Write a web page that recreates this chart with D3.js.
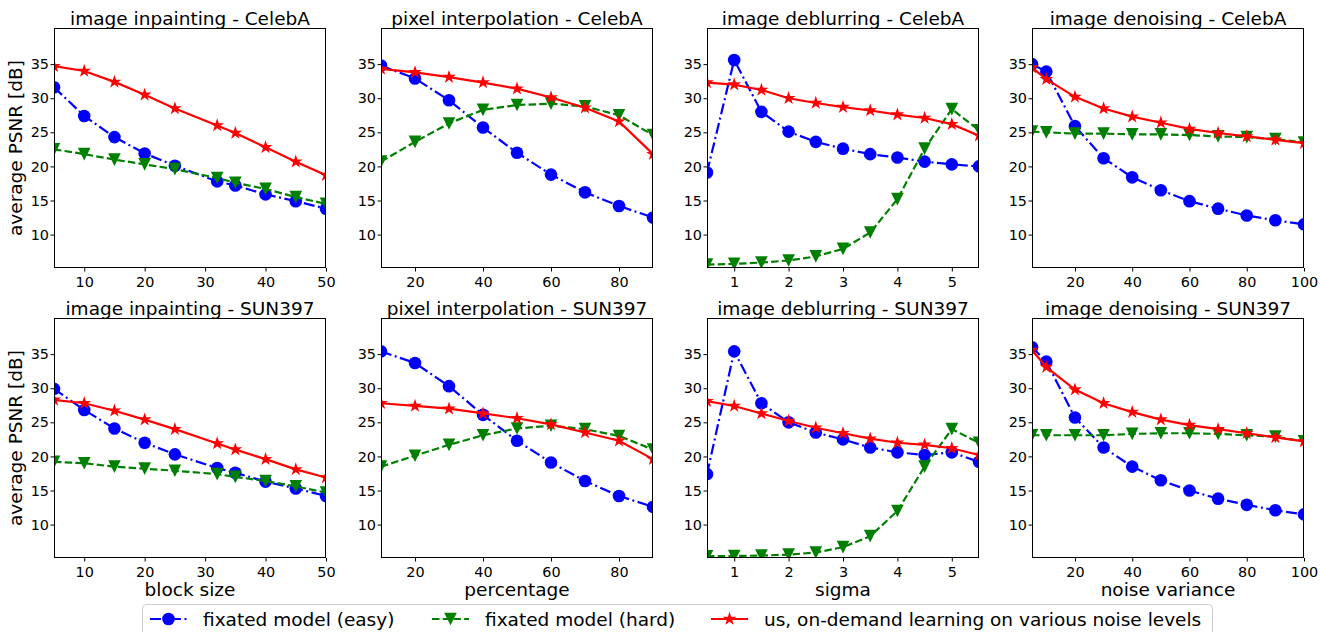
<!DOCTYPE html>
<html lang="en">

<head>
    <meta charset="UTF-8">
    <title>PSNR per task</title>
    <script src="https://d3js.org/d3.v7.min.js"></script>
    <style>
        body {
            margin: 0;
            background: white;
        }

        svg text {
            font-family: "DejaVu Sans", sans-serif;
            fill: black;
        }

        .tick text {
            font-size: 14.4px;
        }

        .panel-title,
        .axis-label,
        .legend-text {
            font-size: 18.5px;
        }
    </style>
</head>

<body>
    <script>
        // x values of each task
        const inpaintX = [5, 10, 15, 20, 25, 32, 35, 40, 45, 50];
        const interpX = [10, 20, 30, 40, 50, 60, 70, 80, 90];
        const deblurX = [0.5, 1, 1.5, 2, 2.5, 3, 3.5, 4, 4.5, 5, 5.5];
        const denoiseX = [5, 10, 20, 30, 40, 50, 60, 70, 80, 90, 100];

        // CelebA
        const inpaintCelebaEasy = [31.6, 27.4, 24.3, 21.9, 20.1, 17.8, 17.2, 15.9, 14.9, 13.8];
        const inpaintCelebaHard = [22.5, 21.8, 21.0, 20.3, 19.6, 18.3, 17.6, 16.7, 15.5, 14.5];
        const inpaintCelebaOurs = [34.7, 34.0, 32.4, 30.5, 28.5, 26.0, 24.9, 22.8, 20.7, 18.7];

        const interpCelebaEasy = [34.8, 32.9, 29.7, 25.7, 22.0, 18.8, 16.2, 14.2, 12.5];
        const interpCelebaHard = [20.7, 23.6, 26.3, 28.3, 29.0, 29.2, 28.8, 27.5, 24.6];
        const interpCelebaOurs = [34.3, 33.8, 33.1, 32.3, 31.4, 30.1, 28.6, 26.6, 21.8];

        const deblurCelebaEasy = [19.1, 35.6, 28.0, 25.1, 23.6, 22.6, 21.8, 21.3, 20.7, 20.3, 20.0];
        const deblurCelebaHard = [5.6, 5.7, 5.9, 6.2, 6.8, 7.9, 10.3, 15.2, 22.6, 28.4, 25.3];
        const deblurCelebaOurs = [32.3, 32.0, 31.2, 30.0, 29.3, 28.7, 28.2, 27.6, 27.1, 26.2, 24.5];

        const denoiseCelebaEasy = [35.0, 33.9, 25.9, 21.2, 18.4, 16.5, 14.9, 13.8, 12.8, 12.1, 11.5];
        const denoiseCelebaHard = [25.1, 25.0, 24.8, 24.8, 24.7, 24.7, 24.6, 24.4, 24.3, 24.0, 23.5];
        const denoiseCelebaOurs = [34.5, 32.8, 30.2, 28.5, 27.3, 26.4, 25.5, 24.9, 24.4, 23.9, 23.4];

        // SUN397
        const inpaintSunEasy = [29.9, 26.8, 24.1, 22.0, 20.3, 18.3, 17.6, 16.3, 15.3, 14.2];
        const inpaintSunHard = [19.2, 19.0, 18.5, 18.2, 17.9, 17.4, 17.0, 16.4, 15.6, 14.7];
        const inpaintSunOurs = [28.3, 27.8, 26.7, 25.4, 24.0, 21.9, 21.0, 19.6, 18.1, 16.9];

        const interpSunEasy = [35.4, 33.7, 30.3, 26.1, 22.3, 19.1, 16.4, 14.2, 12.6];
        const interpSunHard = [18.5, 20.1, 21.7, 23.1, 24.1, 24.5, 24.0, 23.0, 21.0];
        const interpSunOurs = [27.8, 27.4, 27.0, 26.3, 25.6, 24.7, 23.5, 22.3, 19.6];

        const deblurSunEasy = [17.4, 35.4, 27.8, 25.0, 23.5, 22.5, 21.3, 20.6, 20.2, 20.6, 19.2];
        const deblurSunHard = [5.35, 5.4, 5.45, 5.6, 5.9, 6.7, 8.3, 12.0, 18.5, 24.0, 22.0];
        const deblurSunOurs = [28.1, 27.4, 26.3, 25.2, 24.2, 23.4, 22.6, 22.0, 21.7, 21.2, 20.2];

        const denoiseSunEasy = [36.0, 33.9, 25.7, 21.3, 18.5, 16.5, 15.0, 13.8, 12.9, 12.1, 11.5];
        const denoiseSunHard = [23.1, 23.1, 23.1, 23.1, 23.3, 23.4, 23.4, 23.3, 23.1, 22.9, 22.2];
        const denoiseSunOurs = [35.6, 33.1, 29.8, 27.8, 26.5, 25.4, 24.6, 24.0, 23.4, 22.8, 22.2];

        // axis ticks
        const yTicks = [10, 15, 20, 25, 30, 35];
        const inpaintTicks = [10, 20, 30, 40, 50];
        const interpTicks = [20, 40, 60, 80];
        const deblurTicks = [1, 2, 3, 4, 5];
        const denoiseTicks = [20, 40, 60, 80, 100];

        const xLabels = ["block size", "percentage", "sigma", "noise variance"];
        const legendNames = ["fixated model (easy)", "fixated model (hard)", "us, on-demand learning on various noise levels"];

        const panels = [
            { title: "image inpainting - CelebA", x: inpaintX, ys: [inpaintCelebaEasy, inpaintCelebaHard, inpaintCelebaOurs], dom: [5, 50], ticks: inpaintTicks },
            { title: "pixel interpolation - CelebA", x: interpX, ys: [interpCelebaEasy, interpCelebaHard, interpCelebaOurs], dom: [10, 90], ticks: interpTicks },
            { title: "image deblurring - CelebA", x: deblurX, ys: [deblurCelebaEasy, deblurCelebaHard, deblurCelebaOurs], dom: [0.5, 5.5], ticks: deblurTicks },
            { title: "image denoising - CelebA", x: denoiseX, ys: [denoiseCelebaEasy, denoiseCelebaHard, denoiseCelebaOurs], dom: [5, 100], ticks: denoiseTicks },
            { title: "image inpainting - SUN397", x: inpaintX, ys: [inpaintSunEasy, inpaintSunHard, inpaintSunOurs], dom: [5, 50], ticks: inpaintTicks },
            { title: "pixel interpolation - SUN397", x: interpX, ys: [interpSunEasy, interpSunHard, interpSunOurs], dom: [10, 90], ticks: interpTicks },
            { title: "image deblurring - SUN397", x: deblurX, ys: [deblurSunEasy, deblurSunHard, deblurSunOurs], dom: [0.5, 5.5], ticks: deblurTicks },
            { title: "image denoising - SUN397", x: denoiseX, ys: [denoiseSunEasy, denoiseSunHard, denoiseSunOurs], dom: [5, 100], ticks: denoiseTicks }
        ];

        // triangle pointing down, like matplotlib "v"
        const symbolTriDown = {
            draw(ctx, size) {
                const h = Math.sqrt(size) / 2;
                ctx.moveTo(-h, -h);
                ctx.lineTo(h, -h);
                ctx.lineTo(0, h);
                ctx.closePath();
            }
        };

        const series = [
            { color: "#0000ff", dash: "11,3.5,2,3.5", symbol: d3.symbolCircle, size: 125 },
            { color: "#008000", dash: "7.5,3.2", symbol: symbolTriDown, size: 160 },
            { color: "#ff0000", dash: null, symbol: d3.symbolStar, size: 58 }
        ];

        const width = 1320, height = 632;
        const panelLeft = [54, 381, 707, 1032];
        const panelTop = [28, 318];
        const pw = 272, ph = 240;

        const svg = d3.select("body").append("svg")
            .attr("width", width)
            .attr("height", height);

        const defs = svg.append("defs");

        panels.forEach(function (p, i) {
            const col = i % 4, row = Math.floor(i / 4);
            const g = svg.append("g")
                .attr("transform", "translate(" + panelLeft[col] + "," + panelTop[row] + ")");

            const x = d3.scaleLinear().domain(p.dom).range([0, pw]);
            const y = d3.scaleLinear().domain([5.1, 40.3]).range([ph, 0]);

            defs.append("clipPath").attr("id", "clip" + i)
                .append("rect").attr("width", pw).attr("height", ph);

            // assi
            g.append("g")
                .attr("transform", "translate(0," + ph + ")")
                .call(d3.axisBottom(x).tickValues(p.ticks).tickSize(3.5).tickPadding(5).tickFormat(d3.format("")))
                .call(a => a.select(".domain").remove());

            g.append("g")
                .call(d3.axisLeft(y).tickValues(yTicks).tickSize(3.5).tickPadding(1.5))
                .call(a => a.select(".domain").remove());

            g.selectAll(".tick line").attr("stroke", "black");
            g.selectAll(".tick text").attr("font-family", null).attr("font-size", null);

            // linee e marker
            const plot = g.append("g").attr("clip-path", "url(#clip" + i + ")");
            series.forEach(function (s, k) {
                const pts = p.x.map((v, j) => [v, p.ys[k][j]]);
                plot.append("path")
                    .datum(pts)
                    .attr("fill", "none")
                    .attr("stroke", s.color)
                    .attr("stroke-width", 2.2)
                    .attr("stroke-dasharray", s.dash)
                    .attr("d", d3.line().x(d => x(d[0])).y(d => y(d[1])));

                plot.selectAll(".m" + k)
                    .data(pts)
                    .enter().append("path")
                    .attr("class", "m" + k)
                    .attr("transform", d => "translate(" + x(d[0]) + "," + y(d[1]) + ")")
                    .attr("d", d3.symbol().type(s.symbol).size(s.size))
                    .attr("fill", s.color);
            });

            // cornice
            g.append("rect")
                .attr("x", 0.5).attr("y", 0.5)
                .attr("width", pw - 1).attr("height", ph - 1)
                .attr("fill", "none")
                .attr("stroke", "black")
                .attr("stroke-width", 1);

            g.append("text")
                .attr("class", "panel-title")
                .attr("x", pw / 2)
                .attr("y", -3)
                .attr("text-anchor", "middle")
                .text(p.title);

            if (col === 0) {
                g.append("text")
                    .attr("class", "axis-label")
                    .attr("transform", "translate(-32," + ph / 2 + ") rotate(-90)")
                    .attr("text-anchor", "middle")
                    .text("average PSNR [dB]");
            }
            if (row === 1) {
                g.append("text")
                    .attr("class", "axis-label")
                    .attr("x", pw / 2)
                    .attr("y", 278)
                    .attr("text-anchor", "middle")
                    .text(xLabels[col]);
            }
        });

        // legenda
        const legend = svg.append("g");
        legend.append("rect")
            .attr("x", 142.5).attr("y", 604.5)
            .attr("width", 1070).attr("height", 44)
            .attr("rx", 4)
            .attr("fill", "white")
            .attr("stroke", "#cccccc");

        const legendX = [150, 432, 711];
        series.forEach(function (s, k) {
            const lg = legend.append("g").attr("transform", "translate(" + legendX[k] + ",619)");
            lg.append("line")
                .attr("x1", 0).attr("x2", 37)
                .attr("stroke", s.color)
                .attr("stroke-width", 2.2)
                .attr("stroke-dasharray", s.dash);
            lg.append("path")
                .attr("transform", "translate(18.5,0)")
                .attr("d", d3.symbol().type(s.symbol).size(s.size))
                .attr("fill", s.color);
            lg.append("text")
                .attr("class", "legend-text")
                .attr("x", 53)
                .attr("y", 6.5)
                .text(legendNames[k]);
        });
    </script>
</body>

</html>
